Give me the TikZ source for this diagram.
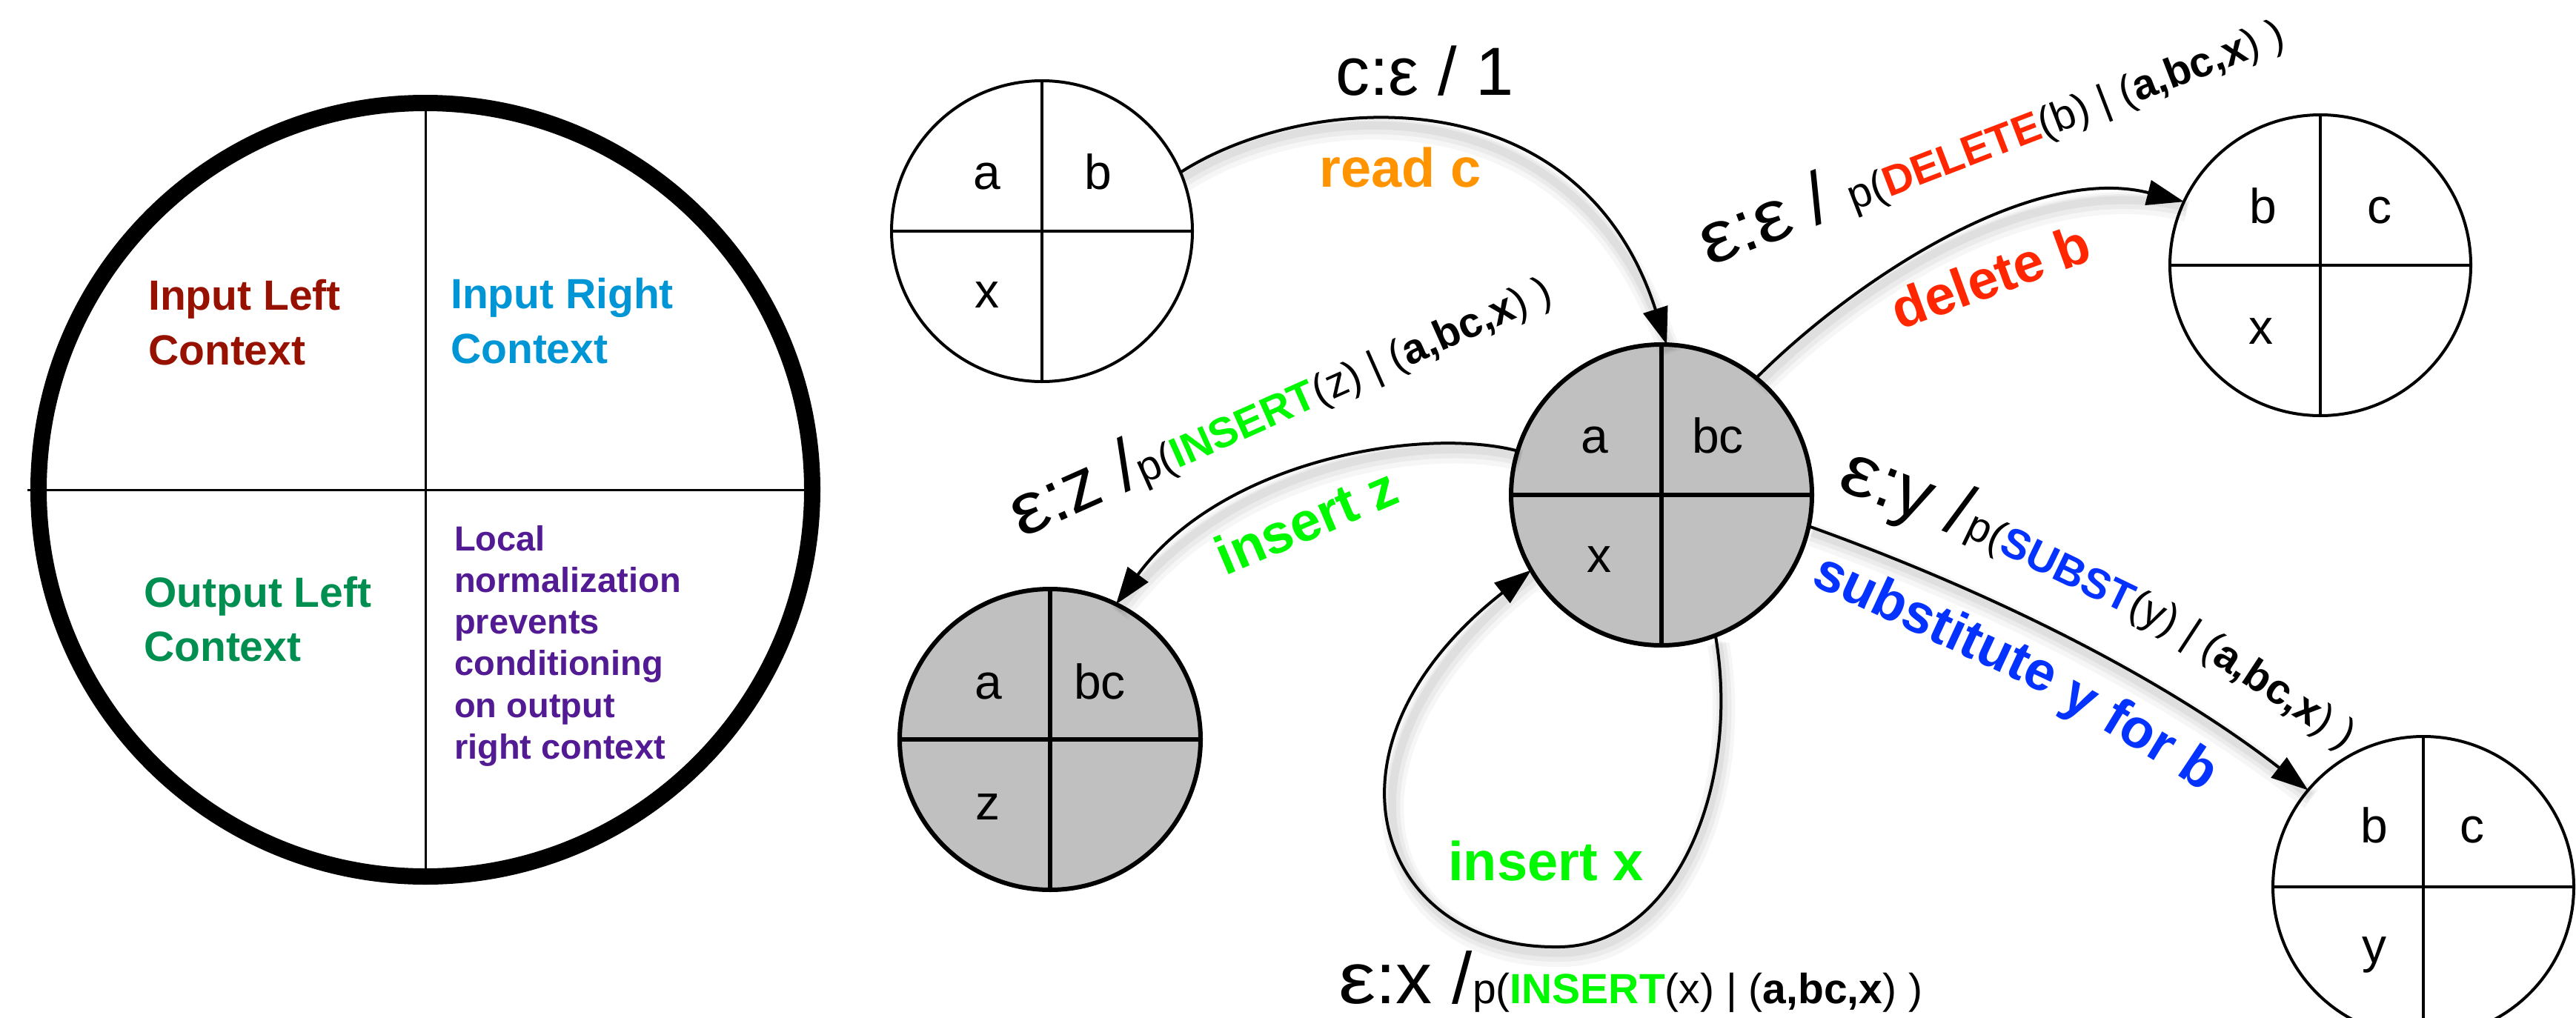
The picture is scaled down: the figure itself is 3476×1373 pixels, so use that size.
\documentclass[tikz,border=0pt]{standalone}
\usepackage{fontspec}
\usepackage{graphicx}
\setmainfont{Liberation Sans}
\usetikzlibrary{arrows.meta}
\definecolor{ilc}{RGB}{150,17,0}
\definecolor{irc}{RGB}{0,150,214}
\definecolor{olc}{RGB}{0,143,81}
\definecolor{lnc}{RGB}{83,27,147}
\definecolor{readc}{RGB}{255,147,0}
\definecolor{delc}{RGB}{255,38,0}
\definecolor{insc}{RGB}{0,249,0}
\definecolor{subc}{RGB}{4,51,255}
\definecolor{stgray}{RGB}{192,192,192}
\newcommand\fsz[1]{\fontsize{#1}{#1}\selectfont}
\newcommand\lbig{\fsz{98}}
\newcommand\lsm{\fsz{57}}
\newcommand\eps{\scalebox{1.15}[1]{ε}}
\begin{document}
\begin{tikzpicture}[x=1pt,y=-1pt,
  wst/.style={circle,draw=black,line width=4pt,fill=white,minimum size=406pt,inner sep=0pt,outer sep=0pt},
  gst/.style={wst,fill=stgray,line width=6pt},
  quad/.style={line width=3.5pt},
  gquad/.style={line width=5.5pt},
  slbl/.style={anchor=base,inner sep=0pt,font=\fsz{66}},
  shad/.style={preaction={draw=black,draw opacity=0.035,line width=30pt,arrows=-,transform canvas={xshift=4pt,yshift=-12pt}},
               preaction={draw=black,draw opacity=0.045,line width=20pt,arrows=-,transform canvas={xshift=4pt,yshift=-10pt}},
               preaction={draw=black,draw opacity=0.05,line width=11pt,arrows=-,transform canvas={xshift=3pt,yshift=-8pt}}},
  trans/.style={shad,draw=black,line width=4pt,-{Triangle[length=50pt,width=34pt]}},
  ctx/.style={anchor=base west,inner sep=0pt,font=\bfseries\fsz{57}},
  loc/.style={anchor=base west,inner sep=0pt,font=\bfseries\fsz{47},text=lnc},
  elbl/.style={inner sep=0pt},
  subw/.style={elbl,sloped,anchor=base,font=\bfseries\fsz{74},text=subc}]
\fill[white] (0,0) rectangle (3476,1373);
\useasboundingbox (0,0) rectangle (3476,1373);

% ---------- left legend circle ----------
\node[circle,draw=black,line width=22pt,minimum size=1044pt,inner sep=0pt,outer sep=0pt] (LC) at (574,661) {};
\draw[line width=3pt] (LC.north) -- (LC.south);
\draw[line width=3pt] ([xshift=-15pt]LC.west) -- (LC.east);
\node[ctx,text=ilc] (il1) at (200,418) {Input Left};
\node[ctx,text=ilc] (il2) at (200,492) {Context};
\node[ctx,text=irc] (ir1) at (608,416) {Input Right};
\node[ctx,text=irc] (ir2) at (608,490) {Context};
\node[ctx,text=olc] (ol1) at (194,819) {Output Left};
\node[ctx,text=olc] (ol2) at (194,892) {Context};
\node[loc] (ln1) at (613,743) {Local};
\node[loc] (ln2) at (613,799) {normalization};
\node[loc] (ln3) at (613,855) {prevents};
\node[loc] (ln4) at (613,911) {conditioning};
\node[loc] (ln5) at (613,968) {on output};
\node[loc] (ln6) at (613,1024) {right context};

% ---------- states ----------
\node[wst] (A) at (1406,312) {};
\draw[quad] (A.north) -- (A.south) (A.west) -- (A.east);
\node[slbl] (Aa) at ([xshift=-74pt,yshift=57pt]A.center) {a};
\node[slbl] (Ab) at ([xshift=76pt,yshift=57pt]A.center) {b};
\node[slbl] (Ax) at ([xshift=-74pt,yshift=-103pt]A.center) {x};

\node[gst] (C) at (2242,668) {};
\draw[gquad] (C.north) -- (C.south) (C.west) -- (C.east);
\node[slbl] (Ca) at ([xshift=-90pt,yshift=57pt]C.center) {a};
\node[slbl] (Cb) at ([xshift=76pt,yshift=57pt]C.center) {bc};
\node[slbl] (Cx) at ([xshift=-84pt,yshift=-104pt]C.center) {x};

\node[wst] (D) at (3131,358) {};
\draw[quad] (D.north) -- (D.south) (D.west) -- (D.east);
\node[slbl] (Db) at ([xshift=-77pt,yshift=57pt]D.center) {b};
\node[slbl] (Dc) at ([xshift=80pt,yshift=57pt]D.center) {c};
\node[slbl] (Dx) at ([xshift=-80pt,yshift=-106pt]D.center) {x};

\node[gst] (Z) at (1417,998) {};
\draw[gquad] (Z.north) -- (Z.south) (Z.west) -- (Z.east);
\node[slbl] (Za) at ([xshift=-83pt,yshift=55pt]Z.center) {a};
\node[slbl] (Zb) at ([xshift=67pt,yshift=55pt]Z.center) {bc};
\node[slbl] (Zz) at ([xshift=-84pt,yshift=-108pt]Z.center) {z};

\node[wst] (Y) at (3270,1197) {};
\draw[quad] (Y.north) -- (Y.south) (Y.west) -- (Y.east);
\node[slbl] (Yb) at ([xshift=-66pt,yshift=60pt]Y.center) {b};
\node[slbl] (Yc) at ([xshift=66pt,yshift=60pt]Y.center) {c};
\node[slbl] (Yy) at ([xshift=-66pt,yshift=-102pt]Y.center) {y};

% ---------- transitions ----------
\draw[trans] (A.23) .. controls (1760,125) and (2130,95) .. (C.88);
\draw[trans] (C.51) .. controls (2500,380) and (2740,220) .. (D.155);
\draw[trans] (C.163) .. controls (1920,575) and (1650,620) .. (Z.64);
\draw[trans] (C.291) .. controls (2350,1060) and (2260,1280) .. (2100,1278)
             .. controls (1860,1280) and (1760,1010) .. (C.210);
\draw[trans] (C.348) .. controls (2650,785) and (2900,900) .. (Y.140);

% ---------- labels ----------
\node[elbl,anchor=base west,font=\fsz{92}] (lAC) at (1802,128) {c:ε / 1};
\node[elbl,anchor=base west,font=\bfseries\fsz{74},text=readc] (rAC) at (1780,252) {read c};

\node[elbl,anchor=base west,rotate=21] (lCD) at (2306,360)
  {\lbig\eps:\eps{} / \lsm p(\textcolor{delc}{\bfseries DELETE}(b) | (\textbf{a,bc,x}) )};
\node[elbl,rotate=20,font=\bfseries\fsz{74},text=delc] (rCD) at (2686,373) {delete b};

\node[elbl,anchor=base west,rotate=24] (lCZ) at (1378,727)
  {\lbig\eps:z /\lsm p(\textcolor{insc}{\bfseries INSERT}(z) | (\textbf{a,bc,x}) )};
\node[elbl,rotate=23,font=\bfseries\fsz{74},text=insc] (rCZ) at (1762,703) {insert z};

\node[elbl,anchor=base,font=\bfseries\fsz{74},text=insc] (rCC) at (2086,1188) {insert x};
\node[elbl,anchor=base west] (lCC) at (1806,1354)
  {\lbig\eps:x /\lsm p(\textcolor{insc}{\bfseries INSERT}(x) | (\textbf{a,bc,x}) )};

\path (2476,660) .. controls (2750,760) and (2980,870) .. (3220,1060)
  node[elbl,sloped,anchor=base,pos=0.106] (lCY1) {\lbig\eps:y /}
  node[elbl,sloped,anchor=base,pos=0.403] (lCY2) {\lsm p(\textcolor{subc}{\bfseries SUBST}(y)}
  node[elbl,sloped,anchor=base,pos=0.766] (lCY3) {\lsm | (\textbf{a,bc,x}) )};
\path (2440,792) .. controls (2630,870) and (2850,975) .. (3050,1125)
  node[subw,pos=0.275] (rCY1) {substitute}
  node[subw,pos=0.589] (rCY2) {y}
  node[subw,pos=0.716] (rCY3) {for}
  node[subw,pos=0.842] (rCY4) {b};
\end{tikzpicture}
\end{document}
